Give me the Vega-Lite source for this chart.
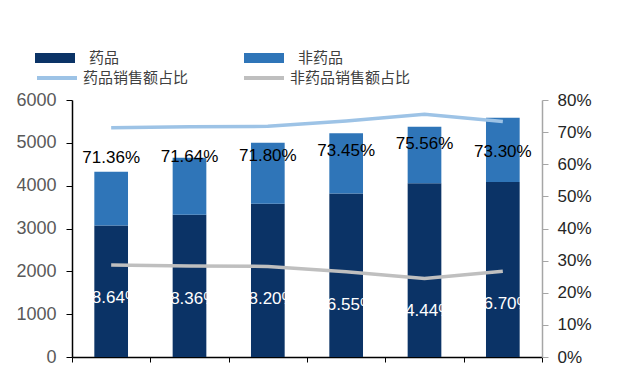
{
  "$schema": "https://vega.github.io/schema/vega-lite/v6.json",
  "autosize": "none",
  "width": 470,
  "height": 257,
  "padding": {"left": 72, "top": 100, "right": 98, "bottom": 13},
  "background": "white",
  "config": {"view": {"stroke": null}, "font": "Liberation Sans"},
  "datasets": {
    "bars": [
      {"year": "2014", "type": "药品", "ord": 1, "value": 3070},
      {"year": "2014", "type": "非药品", "ord": 2, "value": 1256},
      {"year": "2015", "type": "药品", "ord": 1, "value": 3320},
      {"year": "2015", "type": "非药品", "ord": 2, "value": 1333},
      {"year": "2016", "type": "药品", "ord": 1, "value": 3575},
      {"year": "2016", "type": "非药品", "ord": 2, "value": 1429},
      {"year": "2017", "type": "药品", "ord": 1, "value": 3815},
      {"year": "2017", "type": "非药品", "ord": 2, "value": 1407},
      {"year": "2018", "type": "药品", "ord": 1, "value": 4055},
      {"year": "2018", "type": "非药品", "ord": 2, "value": 1322},
      {"year": "2019", "type": "药品", "ord": 1, "value": 4085},
      {"year": "2019", "type": "非药品", "ord": 2, "value": 1502}
    ],
    "shares": [
      {"year": "2014", "series": "药品销售额占比", "share": 0.7136, "label": "71.36%"},
      {"year": "2015", "series": "药品销售额占比", "share": 0.7164, "label": "71.64%"},
      {"year": "2016", "series": "药品销售额占比", "share": 0.7180, "label": "71.80%"},
      {"year": "2017", "series": "药品销售额占比", "share": 0.7345, "label": "73.45%"},
      {"year": "2018", "series": "药品销售额占比", "share": 0.7556, "label": "75.56%"},
      {"year": "2019", "series": "药品销售额占比", "share": 0.7330, "label": "73.30%"},
      {"year": "2014", "series": "非药品销售额占比", "share": 0.2864, "label": "28.64%"},
      {"year": "2015", "series": "非药品销售额占比", "share": 0.2836, "label": "28.36%"},
      {"year": "2016", "series": "非药品销售额占比", "share": 0.2820, "label": "28.20%"},
      {"year": "2017", "series": "非药品销售额占比", "share": 0.2655, "label": "26.55%"},
      {"year": "2018", "series": "非药品销售额占比", "share": 0.2444, "label": "24.44%"},
      {"year": "2019", "series": "非药品销售额占比", "share": 0.2670, "label": "26.70%"}
    ]
  },
  "encoding": {
    "x": {
      "field": "year", "type": "nominal",
      "scale": {"paddingInner": 0, "paddingOuter": 0},
      "axis": {
        "title": null, "labels": false, "tickBand": "extent",
        "domainColor": "#000000", "tickColor": "#000000", "tickSize": 5, "domainWidth": 1.5
      }
    }
  },
  "layer": [
    {
      "data": {"name": "bars"},
      "mark": {"type": "bar", "width": {"band": 0.43}},
      "encoding": {
        "y": {
          "field": "value", "type": "quantitative", "stack": "zero",
          "scale": {"domain": [0, 6000], "nice": false},
          "axis": {
            "title": null, "values": [0, 1000, 2000, 3000, 4000, 5000, 6000], "format": "d",
            "grid": false, "domainColor": "#000000", "tickColor": "#000000", "tickSize": 6,
            "labelFontSize": 18, "labelColor": "#595959", "labelPadding": 10, "domainWidth": 1.5
          }
        },
        "order": {"field": "ord", "type": "quantitative"},
        "color": {
          "field": "type", "type": "nominal",
          "scale": {"domain": ["药品", "非药品"], "range": ["#0B3366", "#2F75B8"]},
          "legend": {
            "orient": "none", "legendX": -37, "legendY": -62, "direction": "horizontal",
            "columns": 2, "columnPadding": 124, "title": null,
            "symbolType": "M-1,-0.25H1V0.25H-1Z", "symbolSize": 1600, "symbolStrokeWidth": 0,
            "labelFont": "Noto Sans CJK SC", "labelFontSize": 15, "labelColor": "#404040",
            "labelOffset": 14
          }
        }
      }
    },
    {
      "data": {"name": "shares"},
      "mark": {"type": "line", "strokeWidth": 3.5},
      "encoding": {
        "y": {
          "field": "share", "type": "quantitative",
          "scale": {"domain": [0, 0.8], "nice": false},
          "axis": {
            "orient": "right", "title": null, "format": ".0%",
            "values": [0, 0.1, 0.2, 0.3, 0.4, 0.5, 0.6, 0.7, 0.8],
            "grid": false, "domainColor": "#A6A6A6", "tickColor": "#A6A6A6", "tickSize": 6,
            "labelFontSize": 17, "labelColor": "#262626", "labelPadding": 9, "domainWidth": 1.5
          }
        },
        "stroke": {
          "field": "series", "type": "nominal",
          "scale": {"domain": ["药品销售额占比", "非药品销售额占比"], "range": ["#9DC3E6", "#BFBFBF"]},
          "legend": {
            "orient": "none", "legendX": -37, "legendY": -44, "direction": "horizontal",
            "columns": 2, "columnPadding": 47, "title": null,
            "symbolType": "stroke", "symbolSize": 1600, "symbolStrokeWidth": 4,
            "labelFont": "Noto Sans CJK SC", "labelFontSize": 15, "labelColor": "#404040",
            "labelOffset": 4
          }
        }
      }
    },
    {
      "data": {"name": "shares"},
      "transform": [{"filter": "datum.series === '药品销售额占比'"}],
      "mark": {"type": "text", "fontSize": 17, "dy": 30, "color": "#000000"},
      "encoding": {
        "y": {"field": "share", "type": "quantitative", "scale": {"domain": [0, 0.8], "nice": false}, "axis": null},
        "text": {"field": "label"}
      }
    },
    {
      "data": {"name": "shares"},
      "transform": [{"filter": "datum.series === '非药品销售额占比'"}],
      "mark": {"type": "text", "fontSize": 17, "dy": 33, "color": "#FFFFFF"},
      "encoding": {
        "y": {"field": "share", "type": "quantitative", "scale": {"domain": [0, 0.8], "nice": false}, "axis": null},
        "text": {"field": "label"}
      }
    }
  ],
  "resolve": {"scale": {"y": "independent", "color": "independent"}}
}
